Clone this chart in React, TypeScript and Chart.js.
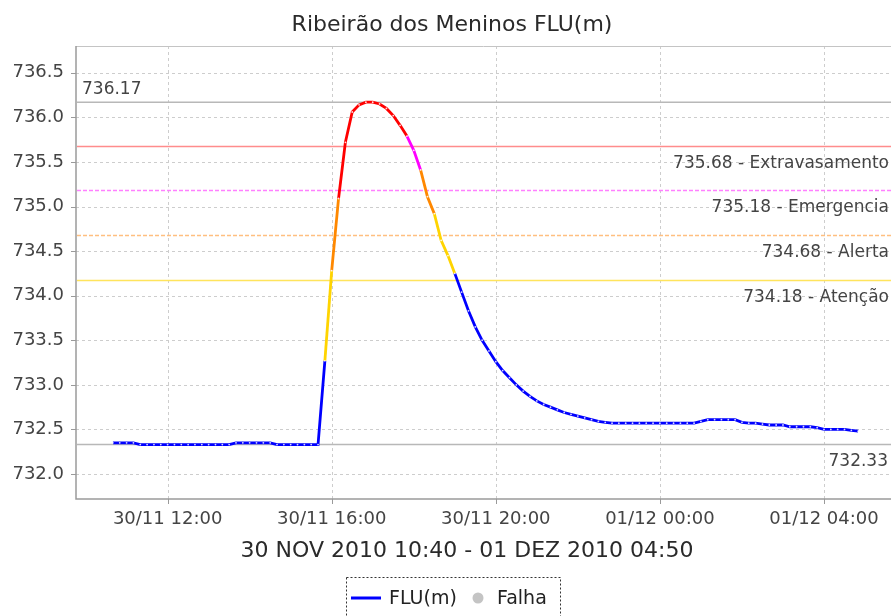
import React, { useEffect, useRef } from "react";
import { Chart, registerables } from "chart.js";

Chart.register(...registerables);

const TITLE = "Ribeirão dos Meninos FLU(m)";
const X_TITLE = "30 NOV 2010 10:40 - 01 DEZ 2010 04:50";
const SERIES_NAME = "FLU(m)";
const FAIL_NAME = "Falha";

const times = [
  "10:40", "10:50", "11:00", "11:10", "11:20", "11:30", "11:40", "11:50",
  "12:00", "12:10", "12:20", "12:30", "12:40", "12:50", "13:00", "13:10",
  "13:20", "13:30", "13:40", "13:50", "14:00", "14:10", "14:20", "14:30",
  "14:40", "14:50", "15:00", "15:10", "15:20", "15:30", "15:40", "15:50",
  "16:00", "16:10", "16:20", "16:30", "16:40", "16:50", "17:00", "17:10",
  "17:20", "17:30", "17:40", "17:50", "18:00", "18:10", "18:20", "18:30",
  "18:40", "18:50", "19:00", "19:10", "19:20", "19:30", "19:40", "19:50",
  "20:00", "20:10", "20:20", "20:30", "20:40", "20:50", "21:00", "21:10",
  "21:20", "21:30", "21:40", "21:50", "22:00", "22:10", "22:20", "22:30",
  "22:40", "22:50", "23:00", "23:10", "23:20", "23:30", "23:40", "23:50",
  "00:00", "00:10", "00:20", "00:30", "00:40", "00:50", "01:00", "01:10",
  "01:20", "01:30", "01:40", "01:50", "02:00", "02:10", "02:20", "02:30",
  "02:40", "02:50", "03:00", "03:10", "03:20", "03:30", "03:40", "03:50",
  "04:00", "04:10", "04:20", "04:30", "04:40", "04:50",
];

const levels = [
  732.35, 732.35, 732.35, 732.35, 732.33, 732.33, 732.33, 732.33,
  732.33, 732.33, 732.33, 732.33, 732.33, 732.33, 732.33, 732.33,
  732.33, 732.33, 732.35, 732.35, 732.35, 732.35, 732.35, 732.35,
  732.33, 732.33, 732.33, 732.33, 732.33, 732.33, 732.33, 733.27,
  734.28, 735.09, 735.72, 736.06, 736.14, 736.17, 736.17, 736.15,
  736.10, 736.02, 735.91, 735.79, 735.63, 735.41, 735.11, 734.92,
  734.62, 734.45, 734.25, 734.04, 733.83, 733.65, 733.50, 733.38,
  733.26, 733.16, 733.08, 733.00, 732.93, 732.87, 732.82, 732.78,
  732.75, 732.72, 732.69, 732.67, 732.65, 732.63, 732.61, 732.59,
  732.58, 732.57, 732.57, 732.57, 732.57, 732.57, 732.57, 732.57,
  732.57, 732.57, 732.57, 732.57, 732.57, 732.57, 732.59, 732.61,
  732.61, 732.61, 732.61, 732.61, 732.58, 732.57, 732.57, 732.56,
  732.55, 732.55, 732.55, 732.53, 732.53, 732.53, 732.53, 732.52,
  732.50, 732.50, 732.50, 732.50, 732.49, 732.48,
];

const xTickMinutes = [720, 960, 1200, 1440, 1680];
const xTickLabels = ["30/11 12:00", "30/11 16:00", "30/11 20:00", "01/12 00:00", "01/12 04:00"];
const yTicks = [732.0, 732.5, 733.0, 733.5, 734.0, 734.5, 735.0, 735.5, 736.0, 736.5];

const thresholdValues = [735.68, 735.18, 734.68, 734.18];
const thresholdNames = ["Extravasamento", "Emergencia", "Alerta", "Atenção"];
const thresholdLineColors = ["#ff8c8c", "#ff80ff", "#ffbf80", "#ffe45c"];
const thresholdLineDashed = [false, true, true, false];
const thresholdSeriesColors = ["#ff0000", "#ff00ff", "#ff8800", "#ffd400"];
const NORMAL_COLOR = "#0000ff";

const MAX_LEVEL = 736.17;
const MIN_LEVEL = 732.33;

const FONT = "'DejaVu Sans', sans-serif";
const GRID_COLOR = "#cdcdcd";
const AXIS_COLOR = "#9a9a9a";

function toMinutes(t: string): number {
  const [h, m] = t.split(":").map(Number);
  const base = h * 60 + m;
  return h < 10 ? base + 1440 : base;
}

function levelColor(v: number): string {
  for (let i = 0; i < thresholdValues.length; i++) {
    if (v >= thresholdValues[i]) return thresholdSeriesColors[i];
  }
  return NORMAL_COLOR;
}

const decorPlugin = {
  id: "decor",
  afterLayout(chart: any) {
    const x = chart.scales.x;
    const W = chart.width;
    if (x && x.right !== W) {
      x.right = W;
      x.width = W - x.left;
      x.configure();
      chart.chartArea.right = W;
      chart.chartArea.width = W - chart.chartArea.left;
    }
  },
  beforeDatasetsDraw(chart: any) {
    const { ctx, chartArea: a, scales } = chart;
    const x = scales.x;
    const y = scales.y;
    ctx.save();

    // grid lines (dashed)
    ctx.strokeStyle = GRID_COLOR;
    ctx.lineWidth = 1;
    ctx.setLineDash([3, 3]);
    xTickMinutes.forEach((v) => {
      const px = Math.round(x.getPixelForValue(v)) + 0.5;
      ctx.beginPath();
      ctx.moveTo(px, a.top);
      ctx.lineTo(px, a.bottom);
      ctx.stroke();
    });
    yTicks.forEach((v) => {
      const py = Math.round(y.getPixelForValue(v)) + 0.5;
      ctx.beginPath();
      ctx.moveTo(a.left, py);
      ctx.lineTo(a.right, py);
      ctx.stroke();
    });
    ctx.setLineDash([]);

    // top border of plot
    ctx.strokeStyle = "#c4c4c4";
    ctx.beginPath();
    ctx.moveTo(a.left, a.top + 0.5);
    ctx.lineTo(a.right, a.top + 0.5);
    ctx.stroke();

    // axes and tick marks
    ctx.strokeStyle = AXIS_COLOR;
    ctx.lineWidth = 1.5;
    ctx.beginPath();
    ctx.moveTo(a.left, a.top);
    ctx.lineTo(a.left, a.bottom);
    ctx.lineTo(a.right, a.bottom);
    ctx.stroke();
    ctx.lineWidth = 1;
    xTickMinutes.forEach((v) => {
      const px = Math.round(x.getPixelForValue(v)) + 0.5;
      ctx.beginPath();
      ctx.moveTo(px, a.bottom);
      ctx.lineTo(px, a.bottom + 5);
      ctx.stroke();
    });
    yTicks.forEach((v) => {
      const py = Math.round(y.getPixelForValue(v)) + 0.5;
      ctx.beginPath();
      ctx.moveTo(a.left - 5, py);
      ctx.lineTo(a.left, py);
      ctx.stroke();
    });

    // max / min reference lines
    ctx.strokeStyle = "#b8b8b8";
    ctx.lineWidth = 1.5;
    [MAX_LEVEL, MIN_LEVEL].forEach((v) => {
      const py = y.getPixelForValue(v);
      ctx.beginPath();
      ctx.moveTo(a.left + 1, py);
      ctx.lineTo(a.right, py);
      ctx.stroke();
    });

    // threshold lines
    thresholdValues.forEach((v, i) => {
      const py = Math.round(y.getPixelForValue(v)) + 0.5;
      ctx.strokeStyle = thresholdLineColors[i];
      ctx.lineWidth = 1.3;
      ctx.setLineDash(thresholdLineDashed[i] ? [4, 2] : []);
      ctx.beginPath();
      ctx.moveTo(a.left + 1, py);
      ctx.lineTo(a.right, py);
      ctx.stroke();
    });
    ctx.setLineDash([]);

    // labels
    ctx.fillStyle = "#444";
    ctx.font = `17px ${FONT}`;
    ctx.textBaseline = "alphabetic";
    ctx.textAlign = "left";
    ctx.fillText(MAX_LEVEL.toFixed(2), a.left + 6, y.getPixelForValue(MAX_LEVEL) - 8);
    ctx.textAlign = "right";
    ctx.fillText(MIN_LEVEL.toFixed(2), a.right - 3, y.getPixelForValue(MIN_LEVEL) + 21);
    thresholdValues.forEach((v, i) => {
      ctx.fillText(`${v.toFixed(2)} - ${thresholdNames[i]}`, a.right - 2, y.getPixelForValue(v) + 22);
    });
    ctx.restore();
  },
  afterDraw(chart: any) {
    const { ctx } = chart;
    ctx.save();
    ctx.fillStyle = "#2a2a2a";
    ctx.textAlign = "center";
    ctx.textBaseline = "alphabetic";
    ctx.font = `22px ${FONT}`;
    ctx.fillText(TITLE, 452, 31);
    ctx.font = `22px ${FONT}`;
    ctx.fillText(X_TITLE, 467, 557);

    // legend
    const bx = 346, by = 577, bw = 214, bh = 45;
    ctx.fillStyle = "#fff";
    ctx.fillRect(bx, by, bw, bh);
    ctx.strokeStyle = "#333";
    ctx.lineWidth = 1;
    ctx.setLineDash([2, 2]);
    ctx.strokeRect(bx + 0.5, by + 0.5, bw, bh);
    ctx.setLineDash([]);
    ctx.strokeStyle = NORMAL_COLOR;
    ctx.lineWidth = 3;
    ctx.beginPath();
    ctx.moveTo(351, 598);
    ctx.lineTo(381, 598);
    ctx.stroke();
    ctx.fillStyle = "#222";
    ctx.textAlign = "left";
    ctx.font = `19px ${FONT}`;
    ctx.fillText(SERIES_NAME, 389, 604);
    ctx.fillStyle = "#c4c4c4";
    ctx.beginPath();
    ctx.arc(478, 598, 5.5, 0, Math.PI * 2);
    ctx.fill();
    ctx.fillStyle = "#222";
    ctx.fillText(FAIL_NAME, 497, 604);
    ctx.restore();
  },
};

export default function App() {
  const canvasRef = useRef<HTMLCanvasElement | null>(null);

  useEffect(() => {
    document.body.style.margin = "0";
    const canvas = canvasRef.current;
    if (!canvas) return;
    const data = times.map((t, i) => ({ x: toMinutes(t), y: levels[i] }));
    const chart = new Chart(canvas, {
      type: "line",
      data: {
        datasets: [
          {
            label: SERIES_NAME,
            data,
            borderColor: NORMAL_COLOR,
            borderWidth: 2.8,
            pointRadius: 0.9,
            pointBackgroundColor: "rgba(255,255,255,0.85)",
            pointBorderWidth: 0,
            tension: 0,
            segment: {
              borderColor: (c: any) => levelColor(c.p1.parsed.y),
            },
          },
        ],
      },
      options: {
        animation: false,
        responsive: false,
        layout: { padding: { top: 46, left: 0, right: 0, bottom: 0 } },
        plugins: {
          legend: { display: false },
          tooltip: { enabled: false },
          title: { display: false },
        },
        scales: {
          x: {
            type: "linear",
            min: 586,
            max: 1778,
            afterBuildTicks: (axis: any) => {
              axis.ticks = xTickMinutes.map((v) => ({ value: v }));
            },
            afterFit: (axis: any) => {
              axis.height = 117;
            },
            ticks: {
              autoSkip: false,
              maxRotation: 0,
              padding: 5,
              color: "#444",
              font: { family: FONT, size: 18 },
              callback: (v: any) => {
                const idx = xTickMinutes.indexOf(Number(v));
                return idx >= 0 ? xTickLabels[idx] : "";
              },
            },
            grid: { display: false, drawTicks: true, tickLength: 5 },
            border: { display: false },
          },
          y: {
            type: "linear",
            min: 731.72,
            max: 736.8,
            afterBuildTicks: (axis: any) => {
              axis.ticks = yTicks.map((v) => ({ value: v }));
            },
            afterFit: (axis: any) => {
              axis.width = 76;
            },
            ticks: {
              padding: 7,
              color: "#444",
              font: { family: FONT, size: 18 },
              callback: (v: any) => Number(v).toFixed(1),
            },
            grid: { display: false, drawTicks: true, tickLength: 5 },
            border: { display: false },
          },
        },
      },
      plugins: [decorPlugin],
    });
    return () => chart.destroy();
  }, []);

  return (
    <div style={{ width: 891, height: 616, background: "#fff" }}>
      <canvas ref={canvasRef} width={891} height={616} style={{ display: "block" }} />
    </div>
  );
}
